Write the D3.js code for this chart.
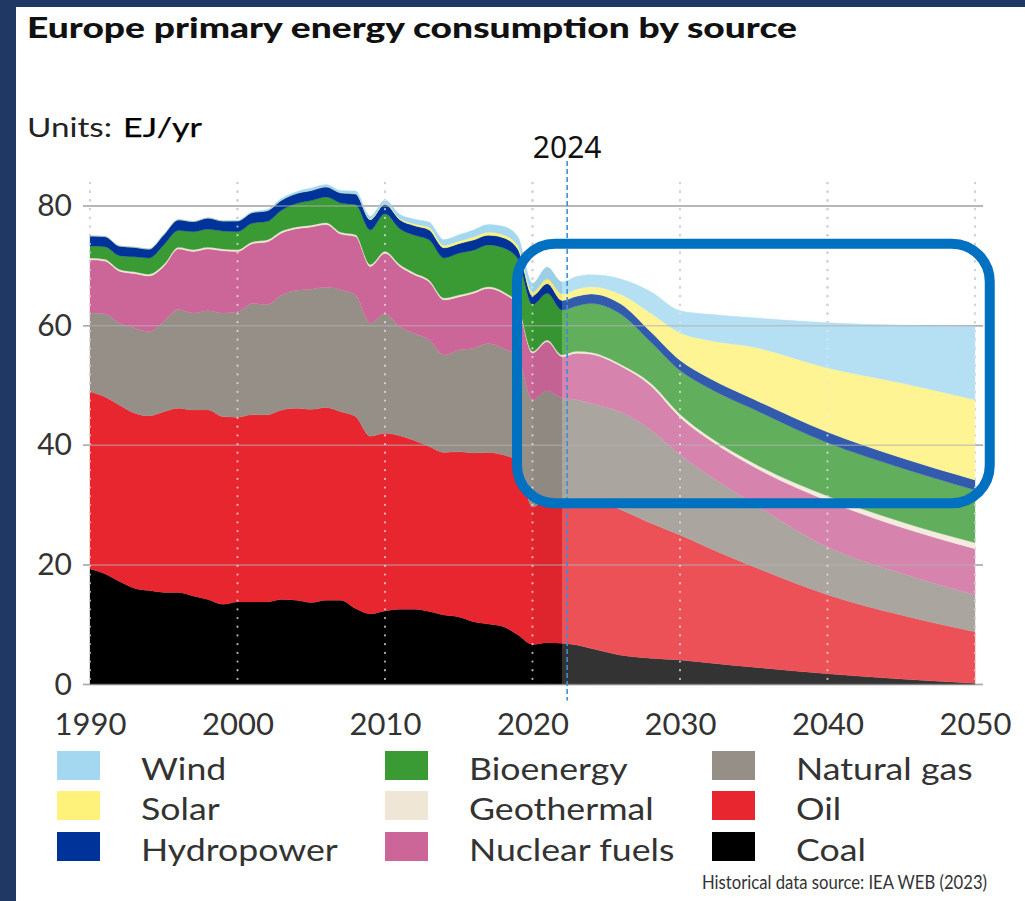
<!DOCTYPE html>
<html><head><meta charset="utf-8">
<script src="https://cdn.jsdelivr.net/npm/d3@7"></script>
<style>html,body{margin:0;padding:0;background:#fff}svg{display:block}</style>
</head><body><svg id="c" width="1025" height="901"></svg>
<script>
// ---------- DATA (EJ/yr) ----------
const years = [1990,1991,1992,1993,1994,1995,1996,1997,1998,1999,2000,2001,2002,2003,2004,2005,2006,2007,2008,2009,2010,2011,2012,2013,2014,2015,2016,2017,2018,2019,2020,2021,2022,2023,2024,2026,2028,2030,2032,2035,2040,2045,2050];
const coal = [19.3,18.5,17.2,16.1,15.7,15.4,15.4,14.8,14.2,13.4,13.8,13.8,13.8,14.2,14.1,13.7,14.1,14.1,12.7,11.8,12.3,12.6,12.6,12.2,11.6,11.3,10.5,10.1,9.7,8.3,6.7,7.0,6.9,6.6,6.0,4.9,4.4,4.1,3.6,2.9,1.8,0.9,0.2];
const oil = [29.7,29.6,29.5,29.3,29.2,30.2,30.8,31.1,31.7,31.4,30.9,31.3,31.3,31.7,32.1,32.3,32.2,31.5,32.1,29.7,29.7,29.0,28.2,27.6,27.2,27.6,28.2,28.7,28.7,29.0,23.0,23.9,24.2,24.4,25.0,24.3,22.6,20.9,19.2,16.8,13.2,10.7,8.6];
const naturalGas = [13.1,13.9,13.7,14.2,14.1,15.1,16.5,16.2,16.6,17.3,17.6,18.6,18.4,19.2,19.7,20.1,20.1,20.4,20.3,18.9,20.0,18.2,17.9,17.8,16.3,17.0,17.5,18.2,17.8,17.5,17.9,18.2,16.8,16.6,16.0,16.3,15.6,13.4,12.1,10.5,8.0,7.0,6.2];
const nuclear = [8.9,8.8,8.7,9.1,9.3,9.2,10.1,10.3,10.3,10.4,10.1,10.0,10.5,10.4,10.3,10.4,10.5,9.3,9.8,9.5,10.1,10.1,9.8,9.7,9.2,8.9,9.2,9.2,9.2,8.4,7.8,8.2,6.9,7.8,8.2,7.7,7.4,6.3,6.0,6.2,7.7,7.7,7.7];
const geothermal = [0.3,0.3,0.3,0.3,0.3,0.3,0.3,0.3,0.3,0.3,0.3,0.3,0.3,0.3,0.3,0.3,0.3,0.3,0.3,0.3,0.3,0.3,0.3,0.3,0.3,0.3,0.3,0.3,0.3,0.3,0.3,0.3,0.3,0.3,0.3,0.3,0.4,0.5,0.5,0.6,0.8,0.9,1.0];
const bioenergy = [2.0,2.1,2.3,2.5,2.7,3.3,2.8,3.0,3.0,3.0,3.0,3.1,3.1,3.5,3.9,4.1,4.3,4.9,5.0,5.8,6.3,6.0,6.3,6.7,6.7,7.0,6.9,7.0,7.3,7.7,7.8,7.8,7.5,7.6,8.2,8.4,6.9,7.3,8.1,9.0,8.9,9.0,8.8];
const hydropower = [1.7,1.7,1.6,1.6,1.5,1.7,1.8,1.7,1.9,1.7,1.8,1.8,1.8,1.7,1.7,1.7,1.7,1.7,1.8,1.7,1.6,1.5,1.6,1.7,1.7,1.6,1.7,1.6,1.7,1.6,1.5,1.6,1.6,1.6,1.6,1.7,1.7,1.7,1.7,1.7,1.8,1.7,1.7];
const solar = [0,0,0,0,0,0,0,0,0,0,0,0,0,0,0,0,0,0,0.05,0.1,0.1,0.2,0.3,0.4,0.4,0.4,0.5,0.5,0.5,0.6,0.6,0.8,1.1,1.2,1.2,1.6,3.1,4.6,6.3,8.7,10.7,12.5,13.4];
const wind = [0,0,0,0,0,0,0,0,0,0,0.1,0.1,0.2,0.3,0.3,0.4,0.4,0.4,0.45,0.5,0.6,0.7,0.8,0.9,1.0,1.1,1.2,1.3,1.4,1.5,1.5,2.0,2.0,2.1,2.0,2.6,3.6,3.7,4.4,4.9,7.6,9.7,12.4];

const keys = ['Coal','Oil','Natural gas','Nuclear fuels','Geothermal','Bioenergy','Hydropower','Solar','Wind'];
const seriesValues = {'Coal':coal,'Oil':oil,'Natural gas':naturalGas,'Nuclear fuels':nuclear,'Geothermal':geothermal,'Bioenergy':bioenergy,'Hydropower':hydropower,'Solar':solar,'Wind':wind};
const legendColumns = [['Wind','Solar','Hydropower'],['Bioenergy','Geothermal','Nuclear fuels'],['Natural gas','Oil','Coal']];
const xTicks = [1990,2000,2010,2020,2030,2040,2050];
const yTicks = [0,20,40,60,80];
const projectionStart = 2022;
const markerYear = 2022.35;
const markerLabel = '2024';
const highlightBox = {x0:2018.95, x1:2051.0, v0:30.3, v1:73.7};

const colors = {'Wind':'#a3d8f0','Solar':'#fff27a','Hydropower':'#003399','Bioenergy':'#3a9b35','Geothermal':'#f0e6d6','Nuclear fuels':'#cc6699','Natural gas':'#968f88','Oil':'#e8262f','Coal':'#000000'};

keys.forEach(k=>{ if(seriesValues[k].length!==years.length) throw new Error('length mismatch '+k+' '+seriesValues[k].length); });

// ---------- LAYOUT ----------
const W=1025,H=901;
const svg=d3.select('#c');
const FONT="Lato, 'Open Sans', sans-serif";
function fitTo(sel,target){ sel.attr('textLength',target).attr('lengthAdjust','spacingAndGlyphs'); }
function stretch(sel,k){ sel.each(function(){ const w=this.getComputedTextLength(); if(w>0){ d3.select(this).attr('textLength',w*k).attr('lengthAdjust','spacingAndGlyphs'); } }); }

svg.append('rect').attr('width',W).attr('height',H).attr('fill','#ffffff');
svg.append('rect').attr('x',0).attr('y',0).attr('width',16).attr('height',H).attr('fill','#203864');
svg.append('rect').attr('x',0).attr('y',0).attr('width',W).attr('height',7).attr('fill','#203864');

const x=d3.scaleLinear().domain([1990,2050]).range([90,975]);
const y=d3.scaleLinear().domain([0,80]).range([684.5,206]);

// title + units
const title=svg.append('text').attr('x',27).attr('y',38).attr('font-family',FONT).attr('font-weight',900)
  .attr('font-size',28.5).attr('fill','#111').text('Europe primary energy consumption by source');
fitTo(title,770);
const u1=svg.append('text').attr('x',27).attr('y',137).attr('font-family',FONT).attr('font-size',26.5).attr('fill','#222').text('Units:');
fitTo(u1,85);
const u2=svg.append('text').attr('x',123).attr('y',137).attr('font-family',FONT).attr('font-size',26.5).attr('fill','#000')
  .attr('stroke','#000').attr('stroke-width',0.25).text('EJ/yr');
fitTo(u2,79);

// background grid (under areas)
const gBack=svg.append('g');
gBack.selectAll('line').data(yTicks).join('line').attr('x1',83).attr('x2',983)
  .attr('y1',d=>y(d)).attr('y2',d=>y(d)).attr('stroke','#a6a6a6').attr('stroke-width',1.5);
const gBackV=svg.append('g');
gBackV.selectAll('line').data(xTicks).join('line').attr('x1',d=>x(d)).attr('x2',d=>x(d))
  .attr('y1',183).attr('y2',y(0)).attr('stroke','#9a9a9a').attr('stroke-width',2.2)
  .attr('stroke-linecap','round').attr('stroke-dasharray','0.1,8.6');

// stacked areas
const table=years.map((yr,i)=>{const o={year:yr};keys.forEach(k=>o[k]=seriesValues[k][i]);return o;});
const stacked=d3.stack().keys(keys)(table);
const area=d3.area().x(d=>x(d.data.year)).y0(d=>y(d[0])).y1(d=>y(d[1])).curve(d3.curveMonotoneX);
svg.append('g').selectAll('path').data(stacked).join('path')
  .attr('d',area).attr('fill',d=>colors[d.key]).attr('stroke',d=>colors[d.key]).attr('stroke-width',0.3);

// clip to the stacked total for shading overlays
const totalArea=d3.area().x(d=>x(d.data.year)).y0(y(0)).y1(d=>y(d[1])).curve(d3.curveMonotoneX);
svg.append('defs').append('clipPath').attr('id','stackClip').append('path').attr('d',totalArea(stacked[stacked.length-1]));
const shade=svg.append('g').attr('clip-path','url(#stackClip)');
shade.append('rect').attr('x',x(projectionStart)).attr('y',y(90)).attr('width',x(2050)-x(projectionStart)+1)
  .attr('height',y(0)-y(90)).attr('fill','#ffffff').attr('opacity',0.2);
shade.append('rect').attr('x',x(2020)).attr('y',y(90)).attr('width',x(projectionStart)-x(2020))
  .attr('height',y(0)-y(90)).attr('fill','#000').attr('opacity',0.04);

// front grid (over areas)
const gFront=svg.append('g');
gFront.selectAll('line').data(yTicks).join('line').attr('x1',83).attr('x2',983)
  .attr('y1',d=>y(d)).attr('y2',d=>y(d)).attr('stroke','#b0b0b0').attr('stroke-opacity',0.6).attr('stroke-width',1.5);
const gFrontV=svg.append('g');
gFrontV.selectAll('line').data(xTicks).join('line').attr('x1',d=>x(d)).attr('x2',d=>x(d))
  .attr('y1',183).attr('y2',y(0)).attr('stroke','#e8e8e8').attr('stroke-opacity',0.75).attr('stroke-width',2.2)
  .attr('stroke-linecap','round').attr('stroke-dasharray','0.1,8.6');

// axes
const yAxis=svg.append('g').attr('transform','translate(83,0)')
  .call(d3.axisLeft(y).tickValues(yTicks).tickSize(0).tickPadding(11));
yAxis.select('.domain').remove();
yAxis.selectAll('text').attr('font-family',FONT).attr('font-size',30).attr('fill','#333');
const xAxis=svg.append('g').attr('transform',`translate(0,${y(0)})`)
  .call(d3.axisBottom(x).tickValues(xTicks).tickFormat(d3.format('d')).tickSize(0));
xAxis.select('.domain').remove();
xAxis.selectAll('text').attr('dy',null).attr('y',735-y(0)).attr('font-family',FONT).attr('font-size',31).attr('fill','#333');

// marker line + label
svg.append('line').attr('x1',x(markerYear)).attr('x2',x(markerYear)).attr('y1',161).attr('y2',y(0)+16)
  .attr('stroke','#3a8fd9').attr('stroke-width',1.6).attr('stroke-dasharray','5,3');
svg.append('text').attr('x',x(markerYear)).attr('y',158).attr('text-anchor','middle')
  .attr('font-family',"'Noto Sans', sans-serif").attr('font-size',30).attr('fill','#111').text(markerLabel);

// highlight box
svg.append('rect').attr('x',x(highlightBox.x0)).attr('y',y(highlightBox.v1))
  .attr('width',x(highlightBox.x1)-x(highlightBox.x0)).attr('height',y(highlightBox.v0)-y(highlightBox.v1))
  .attr('rx',38).attr('ry',38).attr('fill','none').attr('stroke','#0070c0').attr('stroke-width',10);

// legend
const colX=[57,385,712], rowY=[751,791,832];
const legItems=[];
legendColumns.forEach((col,ci)=>col.forEach((k,ri)=>legItems.push({k,ci,ri})));
const lg=svg.append('g').selectAll('g').data(legItems).join('g')
  .attr('transform',d=>`translate(${colX[d.ci]},${rowY[d.ri]})`);
lg.append('rect').attr('width',43).attr('height',29).attr('fill',d=>colors[d.k]);
const lt=lg.append('text').attr('x',84).attr('y',28.5).attr('font-family',FONT).attr('font-size',30.5).attr('fill','#333').text(d=>d.k);
stretch(lt,1.17);

const src=svg.append('text').attr('x',702).attr('y',889).attr('font-family',FONT)
  .attr('font-size',18.5).attr('fill','#333').text('Historical data source: IEA WEB (2023)');
fitTo(src,285);
</script></body></html>
